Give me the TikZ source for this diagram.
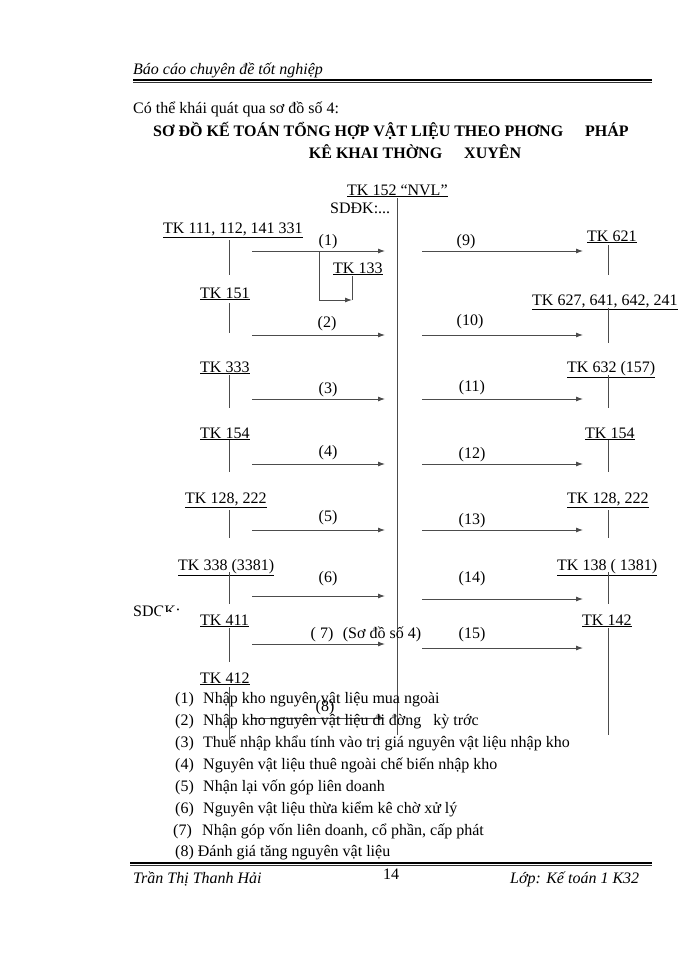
\documentclass[tikz,border=0pt]{standalone}
\usepackage{fontspec}
\setmainfont{Liberation Serif}
\usetikzlibrary{arrows.meta}
\tikzset{
  txt/.style={anchor=base west, inner sep=0pt, font=\fontsize{16}{18}\selectfont},
  ctxt/.style={anchor=base, inner sep=0pt, font=\fontsize{16}{18}\selectfont},
  acct/.style={anchor=base west, inner sep=0pt, font=\fontsize{16}{18}\selectfont},
  stem/.style={draw=black!70, line width=0.9pt},
  flow/.style={draw=black!70, line width=0.9pt, -{Latex[length=7pt,width=5pt]}},
  rule/.style={draw=black, line width=1.6pt},
  thinrule/.style={draw=black!80, line width=0.6pt},
  hdr/.style={anchor=base west, inner sep=0pt, font=\fontsize{16}{18}\selectfont\itshape}
}
\newcommand{\ul}[1]{\underline{#1}}
\begin{document}
\begin{tikzpicture}[x=1pt,y=-1pt]
\useasboundingbox[fill=white] (0,0) rectangle (700,960);
% header
\node[hdr] (hdr) at (133,75) {Báo cáo chuyên đề tốt nghiệp};
\coordinate (hl1) at (133,80); \coordinate (hr1) at (652,80);
\coordinate (hl2) at (133,82.5); \coordinate (hr2) at (652,82.5);
\draw[rule] (hl1) -- (hr1);
\draw[thinrule] (hl2) -- (hr2);
\node[txt] (intro) at (133,114) {Có thể khái quát qua sơ đồ số 4:};
\node[ctxt, font=\fontsize{16}{18}\selectfont\bfseries] (t1) at (391,137) {SƠ ĐỒ KẾ TOÁN TỔNG HỢP VẬT LIỆU THEO PHƠNG\hspace{22pt}PHÁP};
\node[ctxt, font=\fontsize{16}{18}\selectfont\bfseries] (t2) at (415,159) {KÊ KHAI THỜNG\hspace{22pt}XUYÊN};
% central account
\node[acct] (tk152) at (347,195) {\ul{TK 152 “NVL”}};
\node[txt] (sddk) at (330,213) {SDĐK:...};
\coordinate (ctop) at (397,198); \coordinate (cbot) at (397,735);
\draw[stem] (ctop) -- (cbot);
% left accounts
\node[acct] (l1) at (163,233) {\ul{TK 111, 112, 141 331}};
\node[acct] (l2) at (200,298) {\ul{TK 151}};
\node[acct] (l3) at (200,372) {\ul{TK 333}};
\node[acct] (l4) at (200,438) {\ul{TK 154}};
\node[acct] (l5) at (185,503) {\ul{TK 128, 222}};
\node[acct] (l6) at (178,570) {\ul{TK 338 (3381)}};
\node[acct] (l7) at (200,625) {\ul{TK 411}};
\node[acct] (l8) at (200,683) {\ul{TK 412}};
\foreach \n/\a/\b in {1/240/275, 2/303/333, 3/375/408, 4/440/472, 5/510/538, 6/572/604, 7/628/662, 8/687/740}{
  \coordinate (ls\n a) at (229,\a); \coordinate (ls\n b) at (229,\b);
  \draw[stem] (ls\n a) -- (ls\n b);
}
% right accounts
\node[acct] (r1) at (587,241) {\ul{TK 621}};
\node[acct] (r2) at (532,305) {\ul{TK 627, 641, 642, 241}};
\node[acct] (r3) at (567,372) {\ul{TK 632 (157)}};
\node[acct] (r4) at (585,438) {\ul{TK 154}};
\node[acct] (r5) at (567,503) {\ul{TK 128, 222}};
\node[acct] (r6) at (557,570) {\ul{TK 138 ( 1381)}};
\node[acct] (r7) at (582,625) {\ul{TK 142}};
\foreach \n/\a/\b in {1/245/275, 2/308/343, 3/375/408, 4/440/472, 5/510/538, 6/572/604, 7/628/735}{
  \coordinate (rs\n a) at (608,\a); \coordinate (rs\n b) at (608,\b);
  \draw[stem] (rs\n a) -- (rs\n b);
}
% left arrows
\foreach \n/\y in {1/251, 2/335, 3/399, 4/464, 5/530, 6/596, 7/644, 8/718}{
  \coordinate (la\n s) at (252,\y); \coordinate (la\n e) at (385,\y);
  \draw[flow] (la\n s) -- (la\n e);
}
% right arrows
\foreach \n/\y in {9/251, 10/335, 11/399, 12/464, 13/530, 14/599, 15/648}{
  \coordinate (ra\n s) at (422,\y); \coordinate (ra\n e) at (583,\y);
  \draw[flow] (ra\n s) -- (ra\n e);
}
% TK 133 branch
\node[acct] (tk133) at (333,273) {\ul{TK 133}};
\coordinate (b1) at (319,251); \coordinate (b2) at (319,300); \coordinate (b3) at (352,300);
\coordinate (s133) at (352,276);
\draw[flow] (b1) -- (b2) -- (b3);
\draw[stem] (s133) -- (b3);
% arrow labels
\node[ctxt] (n1) at (328,245) {(1)};
\node[ctxt] (n2) at (327,327) {(2)};
\node[ctxt] (n3) at (328,393) {(3)};
\node[ctxt] (n4) at (328,456) {(4)};
\node[ctxt] (n5) at (328,521) {(5)};
\node[ctxt] (n6) at (328,582) {(6)};
\node[ctxt] (n7) at (322,638) {( 7)};
\node[ctxt] (sds) at (382,638) {(Sơ đồ số 4)};
\node[ctxt] (n8) at (325,711) {(8)};
\node[ctxt] (n9) at (466,245) {(9)};
\node[ctxt] (n10) at (470,325) {(10)};
\node[ctxt] (n11) at (472,391) {(11)};
\node[ctxt] (n12) at (472,458) {(12)};
\node[ctxt] (n13) at (472,524) {(13)};
\node[ctxt] (n14) at (472,582) {(14)};
\node[ctxt] (n15) at (472,638) {(15)};
% SDCK (partly hidden)
\begin{scope}
\clip (128,595) rectangle (160.5,625) (160.5,595) rectangle (185,611.5);
\node[txt] (sdck) at (133,616) {SDCK:};
\end{scope}
% legend
\node[txt] (k1) at (175,703) {(1)};
\node[txt] (e1) at (203,703) {Nhập kho nguyên vật liệu mua ngoài};
\node[txt] (k2) at (175,725) {(2)};
\node[txt] (e2) at (203,725) {Nhập kho nguyên vật liệu đi đờng\hspace{12pt}kỳ trớc};
\node[txt] (k3) at (175,747) {(3)};
\node[txt] (e3) at (203,747) {Thuế nhập khẩu tính vào trị giá nguyên vật liệu nhập kho};
\node[txt] (k4) at (175,769) {(4)};
\node[txt] (e4) at (203,769) {Nguyên vật liệu thuê ngoài chế biến nhập kho};
\node[txt] (k5) at (175,791) {(5)};
\node[txt] (e5) at (203,791) {Nhận lại vốn góp liên doanh};
\node[txt] (k6) at (175,813) {(6)};
\node[txt] (e6) at (203,813) {Nguyên vật liệu thừa kiểm kê chờ xử lý};
\node[txt] (k7) at (173,835) {(7)};
\node[txt] (e7) at (202,835) {Nhận góp vốn liên doanh, cổ phần, cấp phát};
\node[txt] (e8) at (175,856) {(8) Đánh giá tăng nguyên vật liệu};
% footer
\coordinate (fl1) at (130,863); \coordinate (fr1) at (652,863);
\coordinate (fl2) at (130,865.5); \coordinate (fr2) at (652,865.5);
\draw[rule] (fl1) -- (fr1);
\draw[thinrule] (fl2) -- (fr2);
\node[hdr] (fa) at (133,883) {Trần Thị Thanh Hải};
\node[ctxt] (pg) at (391,879) {14};
\node[hdr] (fb) at (510,883) {Lớp: Kế toán 1 K32};
\end{tikzpicture}
\end{document}
